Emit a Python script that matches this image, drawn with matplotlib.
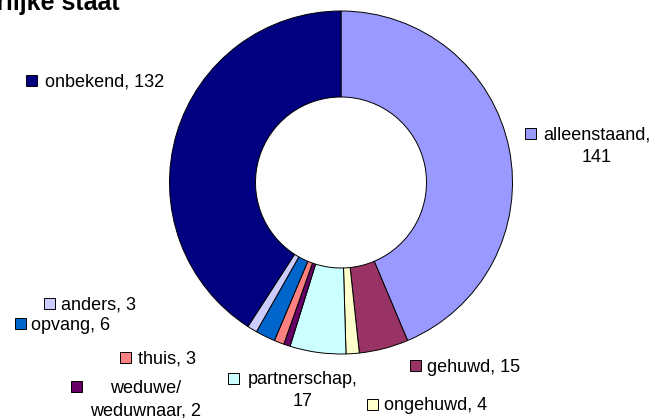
import matplotlib
matplotlib.use("Agg")
import matplotlib.pyplot as plt
from matplotlib.patches import Rectangle

# ---- data ----
title = "Burgerlijke staat"
categories = ["alleenstaand", "gehuwd", "ongehuwd", "partnerschap", "weduwe/\nweduwnaar",
              "thuis", "opvang", "anders", "onbekend"]
values = [141, 15, 4, 17, 2, 3, 6, 3, 132]
colors = ["#9999FF", "#993366", "#FFFFCC", "#CCFFFF", "#660066",
          "#FF8080", "#0066CC", "#CCCCFF", "#000080"]
wrap_value = [True, False, False, True, False, False, False, False, False]

# ---- layout (pixel coordinates, y from top) ----
W, H = 665, 418
center_px = (341, 182.5)
radius_px = 171.5
ring_px = 86
# (text centre x, first line centre y, marker left x)
label_pos = [(597, 133, 525), (473.5, 365, 410), (435.5, 404, 367),
             (302.5, 378, 228), (146, 386.5, 71), (167, 357, 120),
             (70.5, 323, 15), (98.5, 303, 44), (105, 80, 26)]
line_gap = 22
fs = 13
font = "Liberation Sans"

fig = plt.figure(figsize=(W / 100, H / 100), dpi=100)
ax = fig.add_axes([0, 0, 1, 1])

ax.pie(values, colors=colors, startangle=90, counterclock=False,
       center=(center_px[0], H - center_px[1]), radius=radius_px,
       wedgeprops=dict(width=ring_px, edgecolor="black", linewidth=0.7))
ax.set_xlim(0, W)
ax.set_ylim(0, H)
ax.set_aspect("auto")
ax.axis("off")

for name, val, wrap, col, (cx, cy, mx) in zip(categories, values, wrap_value, colors, label_pos):
    text = f"{name},\n{val}" if wrap else f"{name}, {val}"
    for i, line in enumerate(text.split("\n")):
        ax.text(cx, H - (cy + i * line_gap), line, ha="center", va="center_baseline",
                fontsize=fs, family=font, color="black")
    ax.add_patch(Rectangle((mx, H - cy - 5.5), 11, 11, facecolor=col,
                           edgecolor="black", linewidth=0.7))

ax.text(120, H - 10, title, ha="right", va="baseline", fontsize=18,
        fontweight="bold", family=font, color="black")

fig.savefig("out.png", dpi=100)
